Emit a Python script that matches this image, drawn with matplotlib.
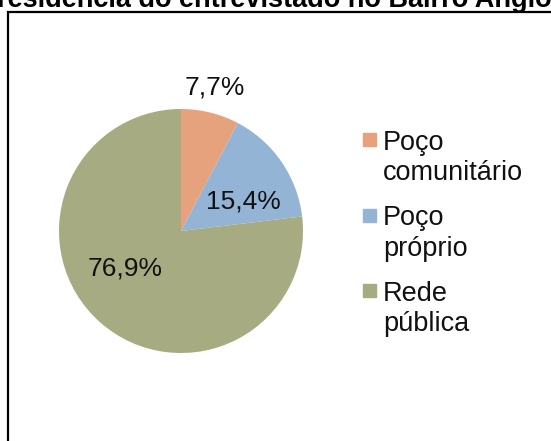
import matplotlib.pyplot as plt
from matplotlib.patches import Rectangle

plt.rcParams['font.family'] = ['Liberation Sans', 'DejaVu Sans']

# dados
categorias = ['Poço\ncomunitário', 'Poço\npróprio', 'Rede\npública']
valores = [7.7, 15.4, 76.9]
cores = ['#E6A27C', '#93B4D4', '#A6AB81']
titulo = 'residência do entrevistado no Bairro Anglo'

W, H = 551, 441
fig = plt.figure(figsize=(W / 100, H / 100), dpi=100)

# titulo cortado no topo
fig.text(-3 / W, 1 - 7 / H, titulo, fontsize=19.5, fontweight='bold',
         ha='left', va='baseline')

# moldura (continua fora da figura a direita e embaixo)
fig.patches.append(Rectangle((7.5 / W, -0.1), 1.2, 1 - 11.5 / H + 0.1,
                             transform=fig.transFigure, fill=False,
                             edgecolor='black', linewidth=1.6, clip_on=False))

# pizza
cx, cy, r = 181, 441 - 231, 122
ax = fig.add_axes([(cx - r) / W, (cy - r) / H, 2 * r / W, 2 * r / H])
wedges, texts, autotexts = ax.pie(
    valores, colors=cores, startangle=90, counterclock=False,
    autopct=lambda p: f'{p:.1f}'.replace('.', ',') + '%',
    wedgeprops=dict(linewidth=0), textprops=dict(fontsize=19, color='#111111'))
ax.set_xlim(-1, 1)
ax.set_ylim(-1, 1)
ax.set_aspect('auto')
ax.axis('off')

# posicoes dos rotulos (como no Excel)
pos_rotulos = [(0.28, 1.18), (0.51, 0.24), (-0.46, -0.31)]
for t, p in zip(autotexts, pos_rotulos):
    t.set_position(p)
    t.set_ha('center')
    t.set_va('center')

# legenda
for i, (nome, cor) in enumerate(zip(categorias, cores)):
    yc = 139 + 75.5 * i  # centro do marcador, px a partir do topo
    fig.patches.append(Rectangle((363.5 / W, 1 - (yc + 7) / H), 13 / W, 13 / H,
                                 transform=fig.transFigure, color=cor))
    fig.text(383 / W, 1 - (yc - 9) / H, nome, fontsize=19.5, va='top',
             ha='left', linespacing=1.22, color='#111111')

fig.savefig('out.png', dpi=100)
